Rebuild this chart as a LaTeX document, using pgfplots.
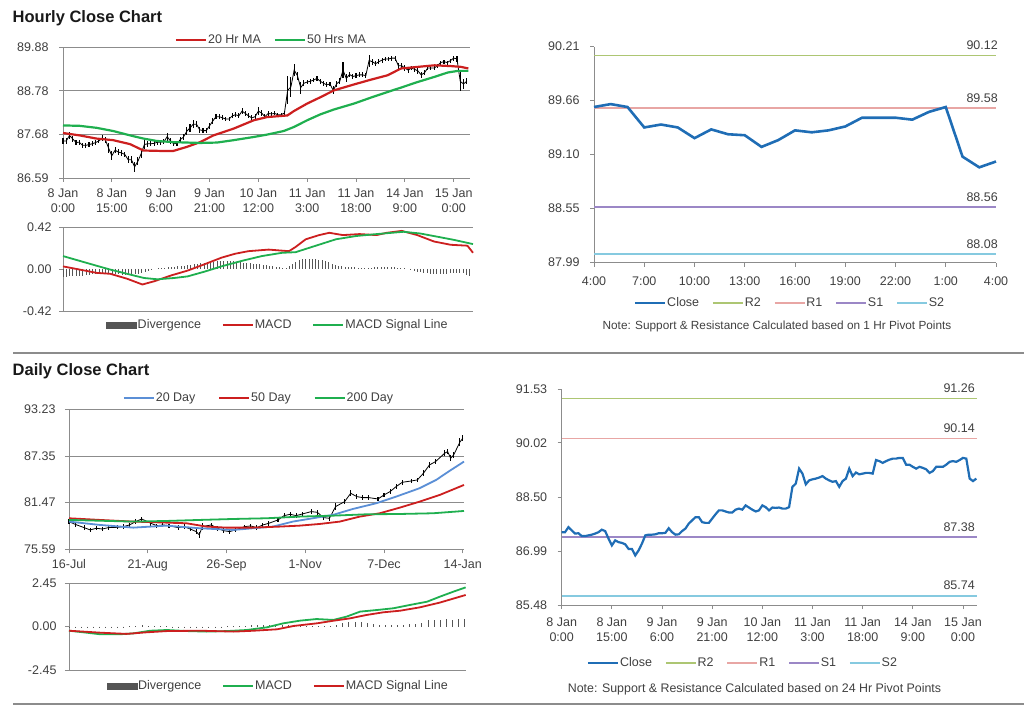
\documentclass[border=0pt]{standalone}
\usepackage{fontspec}
\setmainfont{Liberation Sans}
\usepackage{pgfplots}
\pgfplotsset{compat=1.18}
\usepackage{pgfplotstable}

\definecolor{axg}{HTML}{8C8C8C}
\definecolor{lblc}{HTML}{404040}
\definecolor{mared}{HTML}{CC1F1F}
\definecolor{magreen}{HTML}{1FAF4F}
\definecolor{mablue}{HTML}{5B8FD6}
\definecolor{divg}{HTML}{555555}
\definecolor{closeb}{HTML}{1F6DB5}
\definecolor{rtwo}{HTML}{ADC673}
\definecolor{rone}{HTML}{E8A6A4}
\definecolor{sone}{HTML}{9B87C6}
\definecolor{stwo}{HTML}{86CAE0}

\newcommand{\tl}{\fontsize{12.5}{15.5}\selectfont}

\pgfplotstableread{
i c e
0 87.52 0.07
1 87.52 0.07
2 87.66 0.08
3 87.57 0.07
4 87.48 0.07
5 87.49 0.06
6 87.41 0.06
7 87.41 0.06
8 87.43 0.06
9 87.45 0.06
10 87.48 0.06
11 87.52 0.06
12 87.59 0.07
13 87.55 0.07
14 87.34 0.12
15 87.15 0.12
16 87.29 0.08
17 87.24 0.07
18 87.22 0.07
19 87.18 0.07
20 87.05 0.08
21 87.05 0.08
22 86.87 0.12
23 87.01 0.10
24 87.20 0.12
25 87.43 0.12
26 87.45 0.07
27 87.45 0.06
28 87.46 0.06
29 87.49 0.06
30 87.49 0.06
31 87.50 0.06
32 87.63 0.10
33 87.52 0.07
34 87.45 0.06
35 87.46 0.06
36 87.55 0.07
37 87.62 0.07
38 87.76 0.10
39 87.85 0.10
40 87.94 0.10
41 87.94 0.07
42 87.80 0.07
43 87.78 0.06
44 87.78 0.06
45 87.90 0.08
46 88.02 0.08
47 88.13 0.07
48 88.13 0.06
49 88.10 0.06
50 88.07 0.06
51 88.07 0.06
52 88.15 0.06
53 88.18 0.06
54 88.15 0.06
55 88.27 0.08
56 88.21 0.07
57 88.15 0.06
58 88.10 0.06
59 88.13 0.06
60 88.27 0.10
61 88.22 0.07
62 88.13 0.06
63 88.21 0.06
64 88.20 0.05
65 88.21 0.05
66 88.18 0.05
67 88.18 0.05
68 88.22 0.06
69 88.79 0.35
70 88.88 0.25
71 89.30 0.15
72 89.16 0.10
73 88.86 0.15
74 88.97 0.08
75 89.00 0.06
76 89.02 0.06
77 89.05 0.06
78 89.09 0.06
79 89.02 0.06
80 88.97 0.06
81 88.93 0.06
82 88.95 0.06
83 88.79 0.10
84 88.95 0.08
85 89.02 0.08
86 89.30 0.20
87 89.09 0.10
88 89.19 0.07
89 89.14 0.06
90 89.16 0.06
91 89.18 0.06
92 89.18 0.06
93 89.16 0.06
94 89.54 0.15
95 89.51 0.08
96 89.46 0.06
97 89.51 0.06
98 89.55 0.06
99 89.58 0.06
100 89.58 0.06
101 89.60 0.06
102 89.60 0.06
103 89.41 0.08
104 89.41 0.07
105 89.35 0.07
106 89.30 0.07
107 89.35 0.06
108 89.32 0.06
109 89.28 0.07
110 89.18 0.08
111 89.23 0.06
112 89.35 0.06
113 89.35 0.06
114 89.35 0.05
115 89.41 0.05
116 89.49 0.05
117 89.51 0.05
118 89.49 0.05
119 89.54 0.05
120 89.60 0.06
121 89.58 0.07
122 89.02 0.25
123 88.95 0.12
124 89.02 0.08
}\hourly

\pgfplotstableread{
i v
0 87.72
5.1 87.66
10.3 87.58
15.4 87.54
20.6 87.44
24.7 87.28
29.8 87.27
33.9 87.27
38 87.37
42.1 87.49
46.2 87.66
52.4 87.83
58.6 88.04
62.7 88.12
68.9 88.16
70.9 88.27
75 88.46
79.1 88.62
83.2 88.79
89.4 88.94
94.6 89.06
99.7 89.17
103.8 89.34
108.9 89.38
114.1 89.42
119.2 89.40
122.3 89.38
124.5 89.34
}\hmared

\pgfplotstableread{
i v
0 87.91
5.1 87.90
10.3 87.85
15.4 87.77
20.6 87.66
24.7 87.58
28.8 87.52
33.9 87.49
38 87.48
42.1 87.47
47.3 87.48
52.4 87.54
58.6 87.62
62.7 87.68
67.8 87.77
70.9 87.87
75 88.04
79.1 88.19
83.2 88.31
89.4 88.46
94.6 88.61
99.7 88.75
103.8 88.86
108.9 89.00
114.1 89.13
118.2 89.24
121.3 89.28
124.5 89.28
}\hmagreen

\pgfplotstableread{
i v
0 0.026
5.1 -0.006
10.3 -0.039
14.4 -0.048
19.5 -0.097
24.2 -0.155
27.8 -0.123
32.9 -0.065
38 -0.016
43.2 0.048
48.3 0.113
52.4 0.152
56.5 0.178
62.7 0.194
68.9 0.178
70.9 0.22
74 0.297
78.1 0.339
81.2 0.362
85.3 0.339
90.4 0.349
95.6 0.339
98.7 0.362
103.3 0.381
108 0.339
113.1 0.275
118.2 0.242
123.3 0.233
125 0.162
}\hmacd

\pgfplotstableread{
i v
0 0.129
5.1 0.081
10.3 0.032
14.4 -0.006
19.5 -0.048
24.7 -0.09
28.8 -0.103
33.9 -0.09
38 -0.074
43.2 -0.026
48.3 0.026
54.5 0.081
60.6 0.129
66.8 0.162
70.9 0.168
77.1 0.233
83.2 0.297
89.4 0.33
95.6 0.349
103.8 0.372
108.9 0.355
114.1 0.323
119.2 0.291
125 0.249
}\hsignal

\pgfplotstableread{
i v
0 -0.08
1 -0.08
2 -0.075
3 -0.075
4 -0.07
5 -0.07
6 -0.07
7 -0.06
8 -0.06
9 -0.055
10 -0.05
11 -0.05
12 -0.05
13 -0.05
14 -0.05
15 -0.05
16 -0.055
17 -0.055
18 -0.06
19 -0.06
20 -0.06
21 -0.06
22 -0.055
23 -0.05
24 -0.04
25 -0.03
26 -0.02
27 -0.01
28 0.0
29 0.005
30 0.01
31 0.01
32 0.015
33 0.02
34 0.02
35 0.025
36 0.03
37 0.03
38 0.035
39 0.04
40 0.045
41 0.05
42 0.055
43 0.06
44 0.06
45 0.065
46 0.07
47 0.075
48 0.08
49 0.08
50 0.08
51 0.075
52 0.075
53 0.07
54 0.065
55 0.06
56 0.06
57 0.055
58 0.05
59 0.05
60 0.045
61 0.04
62 0.035
63 0.03
64 0.025
65 0.02
66 0.015
67 0.01
68 0.01
69 0.03
70 0.05
71 0.07
72 0.09
73 0.1
74 0.1
75 0.1
76 0.1
77 0.095
78 0.09
79 0.085
80 0.075
81 0.065
82 0.05
83 0.04
84 0.03
85 0.025
86 0.02
87 0.02
88 0.015
89 0.015
90 0.01
91 0.01
92 0.01
93 0.01
94 0.01
95 0.015
96 0.015
97 0.02
98 0.02
99 0.02
100 0.015
101 0.015
102 0.01
103 0.01
104 0.005
105 0.0
106 -0.01
107 -0.02
108 -0.03
109 -0.035
110 -0.04
111 -0.045
112 -0.05
113 -0.05
114 -0.05
115 -0.05
116 -0.05
117 -0.05
118 -0.045
119 -0.045
120 -0.045
121 -0.04
122 -0.045
123 -0.06
124 -0.07
}\hdiv

\pgfplotstableread{
i c
0 89.59
1 89.62
2 89.59
3 89.38
4 89.41
5 89.38
6 89.27
7 89.36
8 89.31
9 89.30
10 89.18
11 89.25
12 89.35
13 89.33
14 89.35
15 89.39
16 89.48
17 89.48
18 89.48
19 89.46
20 89.54
21 89.59
22 89.08
23 88.97
24 89.03
}\lastday

\pgfplotstableread{
i c e
0 79.08 0.3
2 78.74 0.3
5 78.32 0.3
7 78.03 0.25
9 78.24 0.25
11 78.15 0.25
13 78.32 0.25
16 78.36 0.25
18 78.45 0.3
20 78.66 0.3
22 79.08 0.3
24 79.41 0.3
27 78.87 0.3
29 78.57 0.25
31 78.66 0.25
33 78.57 0.25
36 78.32 0.3
38 78.45 0.3
40 78.15 0.3
42 77.82 0.3
43 77.40 0.35
44 78.45 0.4
47 78.66 0.3
49 78.24 0.3
51 77.94 0.3
53 77.82 0.3
55 78.03 0.25
58 78.45 0.25
60 78.53 0.3
62 78.32 0.3
64 78.66 0.3
66 78.87 0.3
69 79.29 0.3
71 79.83 0.3
73 80.00 0.3
75 79.83 0.3
77 80.04 0.3
80 80.34 0.3
82 80.25 0.3
84 79.58 0.35
86 79.50 0.35
88 80.97 0.4
91 81.60 0.35
93 82.65 0.4
95 82.23 0.3
97 82.10 0.3
99 82.10 0.3
102 81.93 0.3
104 82.44 0.3
106 82.86 0.3
108 83.49 0.35
110 84.03 0.3
113 84.20 0.3
115 84.33 0.3
117 85.17 0.35
119 86.22 0.4
121 86.64 0.35
124 87.69 0.4
125 87.90 0.35
126 87.06 0.4
127 87.48 0.4
129 89.07 0.5
130 89.58 0.4
}\daily

\pgfplotstableread{
i v
0 79.08
10.2 78.66
21.2 78.32
32.2 78.57
43.2 78.24
54.2 78.03
60.7 78.24
67.3 78.45
73.9 79.08
80.5 79.50
87.1 79.92
93.7 80.67
101.4 81.39
108 82.23
115.7 83.28
121.2 84.33
125.6 85.46
130.4 86.64
}\dtwenty

\pgfplotstableread{
i v
0 79.50
10.2 79.29
21.2 79.08
32.2 78.95
38.8 78.87
45.4 78.45
52 78.32
60.7 78.32
69.5 78.45
76.1 78.57
82.7 78.78
89.4 79.08
96 79.71
102.6 80.13
109.2 80.84
115.8 81.60
122.4 82.44
130.4 83.70
}\dfifty

\pgfplotstableread{
i v
0 79.29
21.2 79.08
32.2 79.16
43.2 79.29
54.2 79.41
65.2 79.50
76.2 79.71
87.2 79.83
98.2 80.00
109.2 80.04
120.2 80.13
130.4 80.42
}\dtwohundred

\pgfplotstableread{
i v
0 -0.23
5.8 -0.34
10.2 -0.43
16.8 -0.43
21.2 -0.38
26.7 -0.23
32.2 -0.19
38.8 -0.25
45.3 -0.28
51.9 -0.25
58.4 -0.19
65 -0.04
70.5 0.19
76 0.34
81.4 0.43
86.9 0.38
91.3 0.57
95.7 0.85
101.2 0.94
106.7 1.04
112.2 1.23
117.7 1.41
122 1.70
126.4 1.98
130.4 2.22
}\dmacd

\pgfplotstableread{
i v
0 -0.23
10.2 -0.34
18.9 -0.41
25.5 -0.32
32.2 -0.25
43.2 -0.23
54.2 -0.28
60.7 -0.23
68.4 -0.15
73.9 0.04
81.6 0.19
87.1 0.34
92.4 0.47
97.8 0.66
103.3 0.81
108.8 0.90
115.3 1.09
121.9 1.36
130.4 1.79
}\dsignal

\pgfplotstableread{
i v
0 -0.05
2 -0.06
4 -0.06
6 -0.05
8 -0.04
10 -0.04
12 -0.04
14 -0.03
16 -0.02
18 -0.02
20 0.02
22 0.05
24 0.07
26 0.06
28 0.04
30 0.03
32 0.02
34 -0.02
36 -0.03
38 -0.03
40 -0.04
42 -0.05
44 -0.04
46 -0.03
48 -0.02
50 -0.02
52 0.02
54 0.03
56 0.03
58 0.05
60 0.07
62 0.08
64 0.09
66 0.10
68 0.10
70 0.10
72 0.08
74 0.06
76 0.05
78 0.05
80 0.05
82 0.06
84 0.05
86 0.06
88 0.12
90 0.20
92 0.25
94 0.28
96 0.26
98 0.22
100 0.15
102 0.10
104 0.10
106 0.10
108 0.10
110 0.12
112 0.15
114 0.17
116 0.20
118 0.35
120 0.38
122 0.40
124 0.42
126 0.40
128 0.42
130 0.42
}\ddiv

\pgfplotsset{
  base/.style={
    scale only axis,
    axis line style={draw=axg, line width=0.9pt},
    tick style={draw=axg, line width=0.9pt},
    tick align=outside,
    major tick length=4pt,
    /pgf/number format/assume math mode=true,
    ticklabel style={font=\tl, text=lblc},
    yticklabel style={/pgf/number format/fixed, /pgf/number format/fixed zerofill, /pgf/number format/precision=2},
    axis x line*=bottom, axis y line*=left,
    grid style={draw=axg, line width=0.9pt},
    legend style={draw=none, fill=none, font=\fontsize{12.5}{15}\selectfont, text=lblc,
      legend columns=-1, inner sep=0pt, anchor=center, nodes={inner sep=1pt}},
    legend image code/.code={\draw[##1] (0pt,0pt) -- (30pt,0pt);},
    clip=false,
  },
  colsep/.style={legend style={/tikz/every even column/.append style={column sep=#1}}},
  divleg/.style={legend image code/.code={\fill[divg] (0pt,-3pt) rectangle (30pt,3pt);}},
}

\begin{document}
\begin{tikzpicture}[x=1pt,y=1pt]

% Titles
\node[anchor=base west, inner sep=0pt, font=\fontsize{16.5}{18}\selectfont\bfseries, text=black!90] at (12.5,683.5) {Hourly Close Chart};
\node[anchor=base west, inner sep=0pt, font=\fontsize{16.5}{18}\selectfont\bfseries, text=black!90] at (12.5,330) {Daily Close Chart};

% Panel A: hourly bars
\begin{axis}[base, at={(63pt,528pt)}, anchor=south west, width=407pt, height=131pt,
  xmin=0, xmax=125, ymin=86.59, ymax=89.88,
  ytick={86.59,87.68,88.78,89.88}, ymajorgrids,
  yticklabel style={xshift=-7pt},
  xtick={0,15,...,120},
  xticklabels={{8 Jan\\0:00},{8 Jan\\15:00},{9 Jan\\6:00},{9 Jan\\21:00},{10 Jan\\12:00},{11 Jan\\3:00},{11 Jan\\18:00},{14 Jan\\9:00},{15 Jan\\0:00}},
  xticklabel style={align=center, yshift=-3pt},
  colsep=12pt, legend style={at={(0.511,1.053)}}]
\addplot[black, line width=0.8pt, forget plot, error bars/.cd, y dir=both, y explicit,
  error bar style={black, line width=1.1pt}, error mark=none] table[x=i, y=c, y error=e] {\hourly};
\addplot[mared, line width=2.2pt] table[x=i, y=v] {\hmared};
\addlegendentry{20 Hr MA}
\addplot[magreen, line width=2.2pt] table[x=i, y=v] {\hmagreen};
\addlegendentry{50 Hrs MA}
\end{axis}

% Panel B: hourly MACD
\begin{axis}[base, at={(63pt,395pt)}, anchor=south west, width=410pt, height=84pt,
  xmin=0, xmax=125, ymin=-0.42, ymax=0.42, ytick={-0.42,0,0.42}, xtick=\empty,
  yticklabel style={xshift=-4pt},
  extra y ticks={0.42}, extra y tick labels={}, extra y tick style={grid=major},
  colsep=20pt, legend style={at={(0.523,-0.167)}}]
\addlegendimage{divleg}
\addlegendentry{Divergence}
\addplot[ycomb, divg, line width=0.9pt, forget plot] table[x=i, y=v] {\hdiv};
\addplot[mared, line width=1.8pt] table[x=i, y=v] {\hmacd};
\addlegendentry{MACD}
\addplot[magreen, line width=1.8pt] table[x=i, y=v] {\hsignal};
\addlegendentry{MACD Signal Line}
\end{axis}

% Panel C: last 24 hours with pivots
\begin{axis}[base, at={(594pt,443.3pt)}, anchor=south west, width=402pt, height=216pt,
  xmin=0, xmax=24, ymin=87.99, ymax=90.21, ytick={87.99,88.55,89.10,89.66,90.21},
  yticklabel style={xshift=-7pt},
  xtick={0,3,...,24}, xticklabels={4:00,7:00,10:00,13:00,16:00,19:00,22:00,1:00,4:00},
  xticklabel style={yshift=-7pt},
  colsep=12pt, legend style={at={(0.486,-0.187)}}]
\addlegendimage{closeb, line width=2.6pt}
\addlegendentry{Close}
\addplot[rtwo, line width=1.6pt] coordinates {(0,90.12) (24,90.12)};
\addlegendentry{R2}
\addplot[rone, line width=1.6pt] coordinates {(0,89.58) (24,89.58)};
\addlegendentry{R1}
\addplot[sone, line width=1.6pt] coordinates {(0,88.56) (24,88.56)};
\addlegendentry{S1}
\addplot[stwo, line width=1.6pt] coordinates {(0,88.08) (24,88.08)};
\addlegendentry{S2}
\addplot[closeb, line width=2.6pt, forget plot] table[x=i, y=c] {\lastday};
\node[anchor=south east, inner sep=0pt, font=\tl, text=lblc, xshift=2pt, yshift=5.5pt] at (axis cs:24,90.12) {90.12};
\node[anchor=south east, inner sep=0pt, font=\tl, text=lblc, xshift=2pt, yshift=5.5pt] at (axis cs:24,89.58) {89.58};
\node[anchor=south east, inner sep=0pt, font=\tl, text=lblc, xshift=2pt, yshift=5.5pt] at (axis cs:24,88.56) {88.56};
\node[anchor=south east, inner sep=0pt, font=\tl, text=lblc, xshift=2pt, yshift=5.5pt] at (axis cs:24,88.08) {88.08};
\end{axis}
\node[font=\fontsize{11.8}{14}\selectfont, text=lblc] at (777,380) {Note: Support \& Resistance Calculated based on 1 Hr Pivot Points};

% Panel D: daily bars
\begin{axis}[base, at={(69pt,156.7pt)}, anchor=south west, width=395pt, height=140pt,
  xmin=0, xmax=130.4, ymin=75.59, ymax=93.23,
  ytick={75.59,81.47,87.35,93.23}, ymajorgrids,
  yticklabel style={xshift=-6pt},
  xtick={0,26,52,78,104,130}, xticklabels={16-Jul,21-Aug,26-Sep,1-Nov,7-Dec,14-Jan},
  xticklabel style={yshift=-3pt},
  colsep=22pt, legend style={at={(0.48,1.081)}}]
\addplot[black, line width=0.8pt, forget plot, error bars/.cd, y dir=both, y explicit,
  error bar style={black, line width=1.1pt}, error mark=none] table[x=i, y=c, y error=e] {\daily};
\addplot[mablue, line width=1.8pt] table[x=i, y=v] {\dtwenty};
\addlegendentry{20 Day}
\addplot[mared, line width=1.8pt] table[x=i, y=v] {\dfifty};
\addlegendentry{50 Day}
\addplot[magreen, line width=1.8pt] table[x=i, y=v] {\dtwohundred};
\addlegendentry{200 Day}
\end{axis}

% Panel E: daily MACD
\begin{axis}[base, at={(69pt,36pt)}, anchor=south west, width=397pt, height=86.7pt,
  xmin=0, xmax=130.5, ymin=-2.45, ymax=2.45, ytick={-2.45,0,2.45}, xtick=\empty,
  yticklabel style={xshift=-5pt},
  extra y ticks={2.45}, extra y tick labels={}, extra y tick style={grid=major},
  colsep=20pt, legend style={at={(0.526,-0.185)}}]
\addlegendimage{divleg}
\addlegendentry{Divergence}
\addplot[ycomb, divg, line width=0.9pt, forget plot] table[x=i, y=v] {\ddiv};
\addplot[magreen, line width=1.8pt] table[x=i, y=v] {\dmacd};
\addlegendentry{MACD}
\addplot[mared, line width=1.8pt] table[x=i, y=v] {\dsignal};
\addlegendentry{MACD Signal Line}
\end{axis}

% Panel F: hourly close with 24h pivots
\begin{axis}[base, at={(561.7pt,101pt)}, anchor=south west, width=415.3pt, height=216pt,
  xmin=0, xmax=124.2, ymin=85.48, ymax=91.53, ytick={85.48,86.99,88.50,90.02,91.53},
  yticklabel style={xshift=-7pt},
  xtick={0,15,...,120},
  xticklabels={{8 Jan\\0:00},{8 Jan\\15:00},{9 Jan\\6:00},{9 Jan\\21:00},{10 Jan\\12:00},{11 Jan\\3:00},{11 Jan\\18:00},{14 Jan\\9:00},{15 Jan\\0:00}},
  xticklabel style={align=center, yshift=-5pt},
  colsep=12pt, legend style={at={(0.435,-0.269)}}]
\addlegendimage{closeb, line width=2.4pt}
\addlegendentry{Close}
\addplot[rtwo, line width=1.6pt] coordinates {(0,91.26) (124.2,91.26)};
\addlegendentry{R2}
\addplot[rone, line width=1.6pt] coordinates {(0,90.14) (124.2,90.14)};
\addlegendentry{R1}
\addplot[sone, line width=1.6pt] coordinates {(0,87.38) (124.2,87.38)};
\addlegendentry{S1}
\addplot[stwo, line width=1.6pt] coordinates {(0,85.74) (124.2,85.74)};
\addlegendentry{S2}
\addplot[closeb, line width=2.2pt, forget plot] table[x=i, y=c] {\hourly};
\node[anchor=south east, inner sep=0pt, font=\tl, text=lblc, xshift=-2pt, yshift=5.5pt] at (axis cs:124.2,91.26) {91.26};
\node[anchor=south east, inner sep=0pt, font=\tl, text=lblc, xshift=-2pt, yshift=5.5pt] at (axis cs:124.2,90.14) {90.14};
\node[anchor=south east, inner sep=0pt, font=\tl, text=lblc, xshift=-2pt, yshift=5.5pt] at (axis cs:124.2,87.38) {87.38};
\node[anchor=south east, inner sep=0pt, font=\tl, text=lblc, xshift=-2pt, yshift=5.5pt] at (axis cs:124.2,85.74) {85.74};
\end{axis}
\node[font=\fontsize{12.4}{14}\selectfont, text=lblc] at (754.5,17) {Note: Support \& Resistance Calculated based on 24 Hr Pivot Points};

% separators
\draw[draw=axg, line width=1.5pt] (13,353) -- (1024,353);
\draw[draw=axg, line width=1.5pt] (13,2) -- (1024,2);

\pgfresetboundingbox
\useasboundingbox (0,0) rectangle (1024,706);
\end{tikzpicture}
\end{document}
